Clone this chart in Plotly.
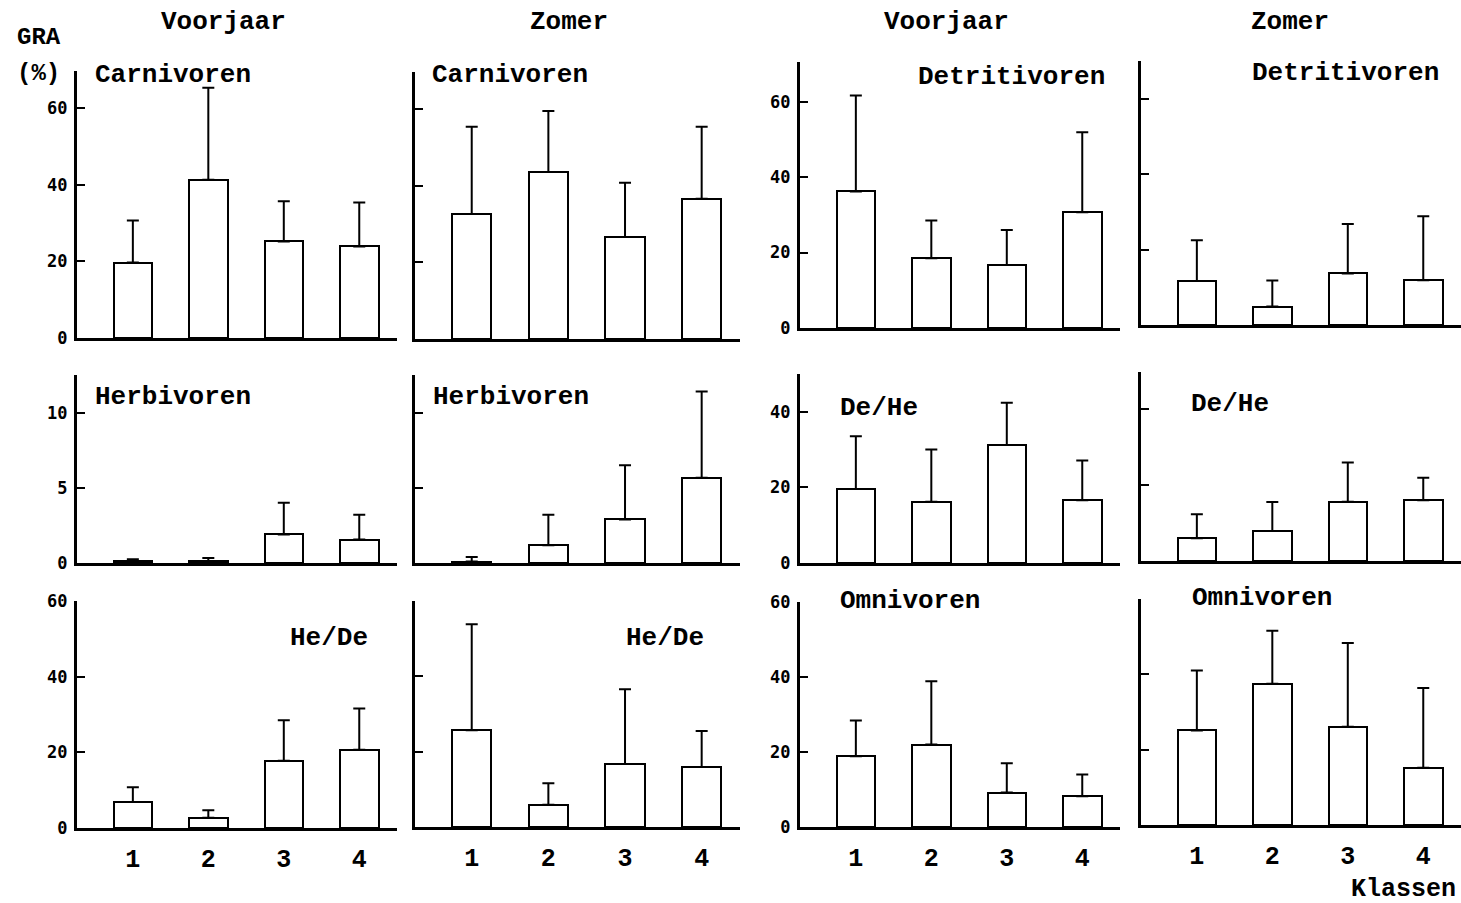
import plotly.graph_objects as go

W, H = 1461, 903

# ---------------- data (GRA %, mean and upper SD per size class) ----------------
klassen = [1, 2, 3, 4]
klassen_labels = ["1", "2", "3", "4"]

carnivoren_voorjaar_mean = [19.7, 41.3, 25.2, 23.9]
carnivoren_voorjaar_sd = [11.0, 24.0, 10.5, 11.5]
carnivoren_zomer_mean = [32.6, 43.6, 26.6, 36.6]
carnivoren_zomer_sd = [22.8, 15.9, 14.2, 18.8]

detritivoren_voorjaar_mean = [36.2, 18.5, 16.7, 30.7]
detritivoren_voorjaar_sd = [25.4, 10.0, 9.3, 21.2]
detritivoren_zomer_mean = [11.7, 4.9, 13.7, 11.9]
detritivoren_zomer_sd = [10.8, 6.9, 13.1, 17.0]

herbivoren_voorjaar_mean = [0.15, 0.12, 1.9, 1.56]
herbivoren_voorjaar_sd = [0.1, 0.21, 2.1, 1.64]
herbivoren_zomer_mean = [0.1, 1.18, 2.9, 5.67]
herbivoren_zomer_sd = [0.3, 2.02, 3.6, 5.73]

dehe_voorjaar_mean = [19.6, 16.2, 31.2, 16.6]
dehe_voorjaar_sd = [13.9, 13.8, 11.2, 10.5]
dehe_zomer_mean = [6.0, 7.9, 15.6, 16.0]
dehe_zomer_sd = [6.3, 7.6, 10.3, 5.9]

hede_voorjaar_mean = [6.9, 2.7, 17.8, 20.7]
hede_voorjaar_sd = [3.9, 2.0, 10.7, 10.9]
hede_zomer_mean = [25.7, 5.9, 16.7, 15.9]
hede_zomer_sd = [28.1, 5.7, 19.9, 9.6]

omnivoren_voorjaar_mean = [18.9, 22.0, 9.2, 8.2]
omnivoren_voorjaar_sd = [9.5, 16.9, 7.8, 5.8]
omnivoren_zomer_mean = [25.1, 37.5, 26.1, 15.2]
omnivoren_zomer_sd = [15.9, 14.1, 22.2, 21.2]

ticks_pct = [0, 20, 40, 60]
ticks_herb = [0, 5, 10]
ticks_pct_mid = [0, 20, 40]

season_titles = ["Voorjaar", "Zomer", "Voorjaar", "Zomer"]

# ---------------- panel list (grid order) ----------------
panels = [
    (carnivoren_voorjaar_mean, carnivoren_voorjaar_sd, "Carnivoren", ticks_pct),
    (carnivoren_zomer_mean, carnivoren_zomer_sd, "Carnivoren", ticks_pct),
    (detritivoren_voorjaar_mean, detritivoren_voorjaar_sd, "Detritivoren", ticks_pct),
    (detritivoren_zomer_mean, detritivoren_zomer_sd, "Detritivoren", ticks_pct),
    (herbivoren_voorjaar_mean, herbivoren_voorjaar_sd, "Herbivoren", ticks_herb),
    (herbivoren_zomer_mean, herbivoren_zomer_sd, "Herbivoren", ticks_herb),
    (dehe_voorjaar_mean, dehe_voorjaar_sd, "De/He", ticks_pct_mid),
    (dehe_zomer_mean, dehe_zomer_sd, "De/He", ticks_pct_mid),
    (hede_voorjaar_mean, hede_voorjaar_sd, "He/De", ticks_pct),
    (hede_zomer_mean, hede_zomer_sd, "He/De", ticks_pct),
    (omnivoren_voorjaar_mean, omnivoren_voorjaar_sd, "Omnivoren", ticks_pct),
    (omnivoren_zomer_mean, omnivoren_zomer_sd, "Omnivoren", ticks_pct),
]

# ---------------- layout geometry (pixels) ----------------
col_x = [(77, 397), (415, 740), (800, 1120), (1141, 1461)]
panel_y = [
    [(71, 338), (72, 339), (62, 328), (61, 325)],
    [(375, 563), (375, 563), (374, 563), (372, 561)],
    [(601, 828), (601, 827), (602, 827), (599, 825)],
]
y_tops = [
    [69.7, 69.7, 70.5, 70.1],
    [12.5, 12.5, 50.0, 49.7],
    [60, 60, 60, 60],
]
title_pos = [
    (93, 75, "left"), (430, 75, "left"), (916, 77, "left"), (1250, 73, "left"),
    (93, 397, "left"), (431, 397, "left"), (838, 408, "left"), (1189, 404, "left"),
    (288, 638, "left"), (624, 638, "left"), (838, 601, "left"), (1190, 598, "left"),
]

MONO = "Liberation Mono"
NUM = "DejaVu Sans Mono"

fig = go.Figure()
layout = dict(
    width=W, height=H,
    margin=dict(l=0, r=0, t=0, b=0, pad=0, autoexpand=False),
    paper_bgcolor="white", plot_bgcolor="white", showlegend=False,
    bargap=0,
)
annotations = []

for i, (mean, sd, title, tv) in enumerate(panels):
    r, c = divmod(i, 4)
    k = i + 1
    xs = "x" if k == 1 else f"x{k}"
    ys = "y" if k == 1 else f"y{k}"
    fig.add_trace(go.Bar(
        x=klassen, y=mean, width=0.51,
        marker=dict(color="white", line=dict(color="black", width=2)),
        error_y=dict(type="data", symmetric=False, array=sd,
                     arrayminus=[0] * len(sd), color="black",
                     thickness=2, width=6),
        xaxis=xs, yaxis=ys, hoverinfo="skip",
    ))
    x0, x1 = col_x[c]
    y0, y1 = panel_y[r][c]
    xkey = "xaxis" if k == 1 else f"xaxis{k}"
    ykey = "yaxis" if k == 1 else f"yaxis{k}"
    layout[xkey] = dict(
        domain=[x0 / W, x1 / W], anchor=ys, range=[0.26, 4.5],
        showline=True, linewidth=3, linecolor="black", mirror=False,
        showgrid=False, zeroline=False, ticks="", automargin=False,
        tickvals=klassen, ticktext=klassen_labels,
        showticklabels=(r == 2), ticklabelstandoff=6,
        tickfont=dict(family=MONO, size=25, color="black", weight="bold"),
        fixedrange=True,
    )
    layout[ykey] = dict(
        domain=[1 - y1 / H, 1 - y0 / H], anchor=xs, range=[0, y_tops[r][c]],
        showline=True, linewidth=3, linecolor="black",
        showgrid=False, zeroline=False, automargin=False,
        ticks="inside", ticklen=8, tickwidth=2, tickcolor="black",
        tickvals=tv, ticktext=[str(v) for v in tv],
        showticklabels=(c in (0, 2)), ticklabelstandoff=3,
        tickfont=dict(family=NUM, size=17, color="black", weight="bold"),
        fixedrange=True,
    )
    tx, ty, ta = title_pos[i]
    annotations.append(dict(
        text=title, x=tx / W, y=1 - ty / H, xref="paper", yref="paper",
        xanchor=ta, yanchor="middle", showarrow=False,
        font=dict(family=MONO, size=26, color="black", weight="bold"),
    ))

header_x = [224, 569, 946, 1290]
for hx, t in zip(header_x, season_titles):
    annotations.append(dict(
        text=t, x=hx / W, y=1 - 22 / H, xref="paper", yref="paper",
        xanchor="center", yanchor="middle", showarrow=False,
        font=dict(family=MONO, size=26, color="black", weight="bold"),
    ))

for t, ty in [("GRA", 38), ("(%)", 73)]:
    annotations.append(dict(
        text=t, x=15 / W, y=1 - ty / H, xref="paper", yref="paper",
        xanchor="left", yanchor="middle", showarrow=False,
        font=dict(family=MONO, size=24, color="black", weight="bold"),
    ))

annotations.append(dict(
    text="Klassen", x=1458 / W, y=1 - 889 / H, xref="paper", yref="paper",
    xanchor="right", yanchor="middle", showarrow=False,
    font=dict(family=MONO, size=25, color="black", weight="bold"),
))

layout["annotations"] = annotations
fig.update_layout(**layout)
fig.write_html("out.html", config={"displayModeBar": False})
